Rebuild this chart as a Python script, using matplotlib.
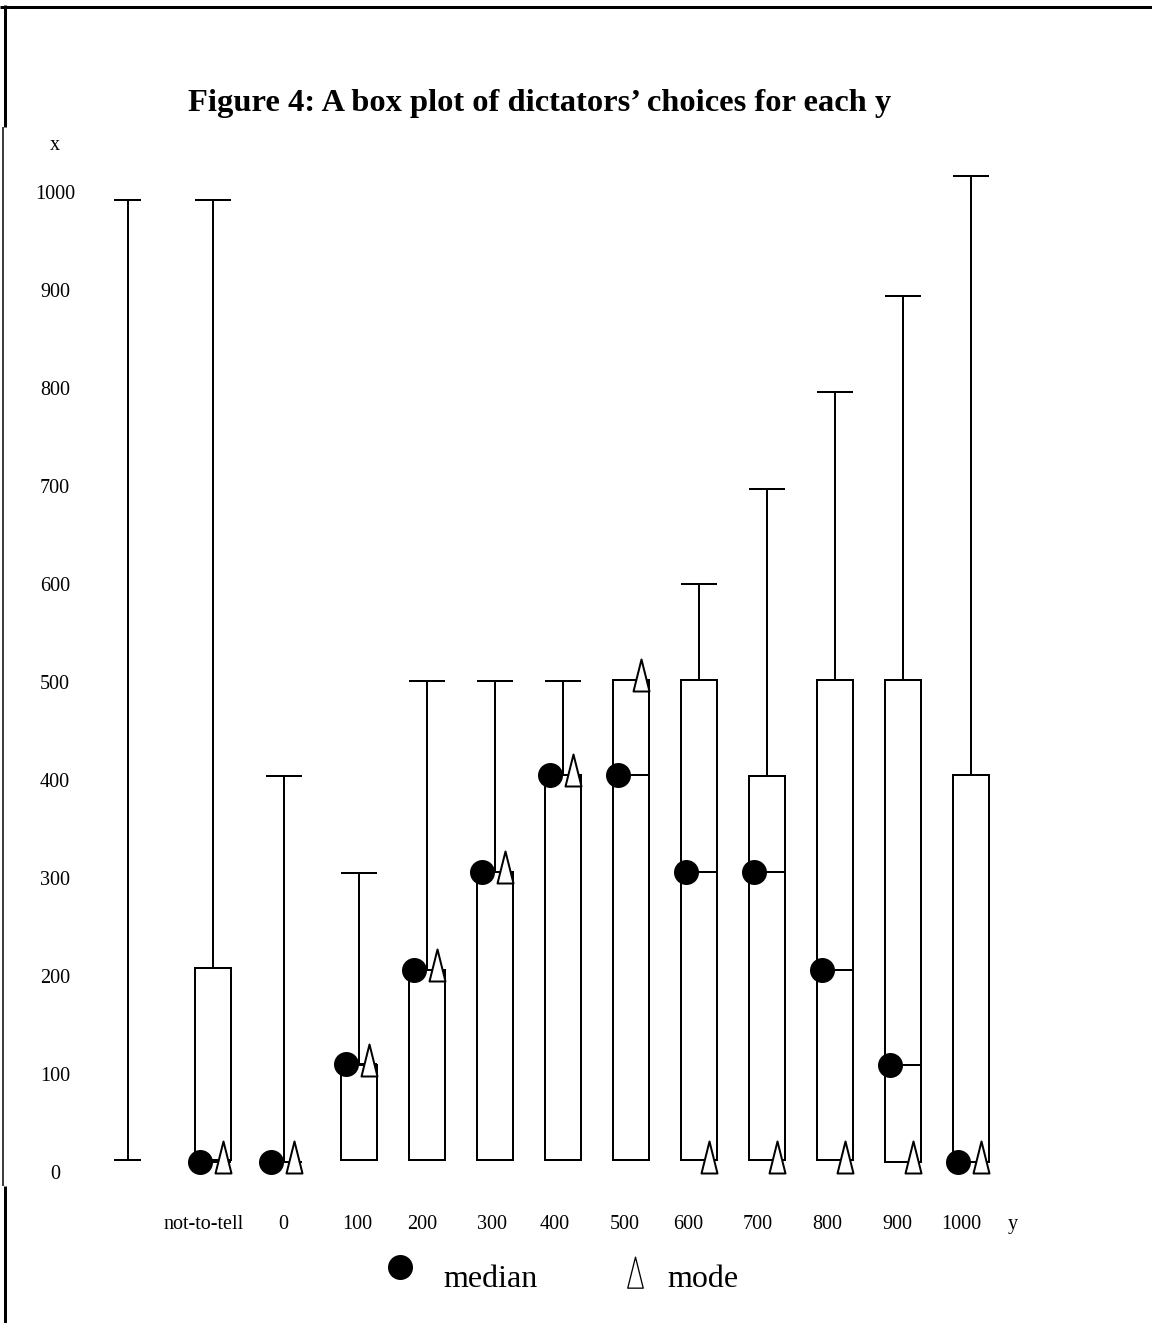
import matplotlib
matplotlib.use("Agg")
import matplotlib.pyplot as plt
from matplotlib.patches import Rectangle
from matplotlib.path import Path

# ---- data: dictators' choices x for each y ----
labels = ["", "not-to-tell", "0", "100", "200", "300", "400", "500",
          "600", "700", "800", "900", "1000"]
lower = [12, 12, 10, 12, 12, 12, 12, 12, 12, 12, 12, 10, 10]
q1 = [None, 12, 10, 12, 12, 12, 12, 12, 12, 12, 12, 10, 10]
q3 = [None, 208, 10, 109, 206, 306, 405, 502, 502, 404, 502, 502, 405]
upper = [992, 992, 404, 305, 501, 501, 501, 502, 600, 697, 796, 894, 1016]
median = [None, 10, 10, 110, 206, 306, 405, 405, 306, 306, 206, 109, 10]
mode = [None, 10, 10, 109, 206, 306, 405, 502, 10, 10, 10, 10, 10]
y_ticks = [0, 100, 200, 300, 400, 500, 600, 700, 800, 900, 1000]

# ---- layout ----
W, H, DPI = 1152, 1323, 100
PX = 72.0 / DPI                      # points per pixel
SLOT = 68.0                          # pixels per category slot


def xu(px):
    return 2 + (px - 359.0) / SLOT


def yv(py):
    return (1172.0 - py) / 0.98


positions = [-1.4, -0.15, 0.9, 2, 3, 4, 5, 6, 7, 8, 9, 10, 11]
label_pos = [None, -0.29, 0.88, 1.98, 2.93, 3.96, 4.88, 5.91, 6.84, 7.87,
             8.88, 9.91, 10.85]
half_w = 18.0 / SLOT
serif = ["Liberation Serif", "DejaVu Serif"]
lw = 2.0 * PX

fig = plt.figure(figsize=(W / DPI, H / DPI), dpi=DPI)
ax = fig.add_axes([0, 0, 1, 1])
ax.set_xlim(xu(0), xu(W))
ax.set_ylim(yv(H), yv(0))
ax.axis("off")

# tall thin triangle for the mode
tri = Path([(-8, -11), (8, -11), (0, 21), (-8, -11)],
           [Path.MOVETO, Path.LINETO, Path.LINETO, Path.CLOSEPOLY])
tri_ms = 42 * PX
dot_ms = 25 * PX

for i, x in enumerate(positions):
    if q1[i] is None:
        cw = 13.5 / SLOT
        ax.plot([x, x], [lower[i], upper[i]], color="black", lw=lw,
                solid_capstyle="butt", zorder=2)
        ax.plot([x - cw, x + cw], [lower[i], lower[i]], color="black", lw=lw,
                solid_capstyle="butt", zorder=2)
        ax.plot([x - cw, x + cw], [upper[i], upper[i]], color="black", lw=lw,
                solid_capstyle="butt", zorder=2)
        continue
    ax.add_patch(Rectangle((x - half_w, q1[i]), 2 * half_w, q3[i] - q1[i],
                           facecolor="white", edgecolor="black", lw=lw,
                           zorder=2))
    if upper[i] > q3[i]:
        ax.plot([x, x], [q3[i], upper[i]], color="black", lw=lw,
                solid_capstyle="butt", zorder=2)
        ax.plot([x - half_w, x + half_w], [upper[i], upper[i]], color="black",
                lw=lw, solid_capstyle="butt", zorder=2)
    ax.plot([x - half_w, x + half_w], [median[i], median[i]], color="black",
            lw=lw, solid_capstyle="butt", zorder=2)
    ax.plot([x - 13 / SLOT], [median[i]], marker="o", ms=dot_ms,
            color="black", mec="black", mew=0, zorder=4)
    ax.plot([x + 10 / SLOT], [mode[i]], marker=tri, ms=tri_ms,
            mfc="white", mec="black", mew=lw, zorder=5)

# value axis labels
for v in y_ticks:
    ax.text(xu(55), v - 7 / 0.98, str(v), ha="center", va="baseline",
            fontsize=14.5, family=serif)
ax.text(xu(55), yv(150), "x", ha="center", va="baseline", fontsize=14.5,
        family=serif)

# category labels
for i, lab in enumerate(labels):
    if label_pos[i] is None:
        continue
    ax.text(label_pos[i], yv(1229), lab, ha="center", va="baseline",
            fontsize=14.5, family=serif)
ax.text(xu(1013), yv(1229), "y", ha="center", va="baseline", fontsize=14.5,
        family=serif)

# title
ax.text(xu(188), yv(111), "Figure 4: A box plot of dictators\u2019 choices for each y",
        ha="left", va="baseline", fontsize=23.4, fontweight="bold", family=serif)

# key
ax.plot([xu(400)], [yv(1267)], marker="o", ms=dot_ms, color="black", mew=0)
ax.text(xu(443), yv(1287), "median", ha="left", va="baseline", fontsize=23,
        family=serif)
ax.plot([xu(635)], [yv(1277)], marker=tri, ms=tri_ms * 31 / 32, mfc="white",
        mec="black", mew=1.3 * PX)
ax.text(xu(667), yv(1287), "mode", ha="left", va="baseline", fontsize=23,
        family=serif)

# page frame
ax.plot([xu(0), xu(W)], [yv(6.5), yv(6.5)], color="black", lw=3 * PX,
        solid_capstyle="butt")
ax.plot([xu(4.5), xu(4.5)], [yv(5), yv(127)], color="black", lw=3 * PX,
        solid_capstyle="butt")
ax.plot([xu(3), xu(3)], [yv(127), yv(1186)], color="black", lw=1.5 * PX,
        solid_capstyle="butt")
ax.plot([xu(5), xu(5)], [yv(1186), yv(H)], color="black", lw=3 * PX,
        solid_capstyle="butt")

fig.savefig("out.png", dpi=DPI, facecolor="white")
